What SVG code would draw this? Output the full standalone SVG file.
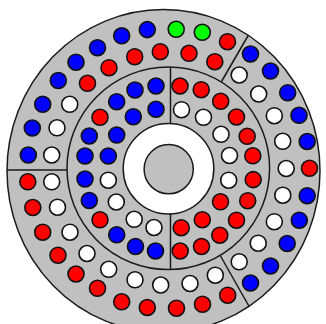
<svg xmlns="http://www.w3.org/2000/svg" width="326" height="324" viewBox="0 0 326 324">
<style>
.ln{stroke:#1a1a1a;stroke-width:1.5;fill:none}
.d circle{stroke:#111;stroke-width:1.6}
.b{fill:#0000ff}.r{fill:#ff0000}.w{fill:#ffffff}.g{fill:#00ff00}
</style>
<defs>
<clipPath id="clip"><ellipse cx="163.5" cy="171" rx="156.5" ry="161.5"/></clipPath>
</defs>
<rect width="326" height="324" fill="#ffffff"/>
<g id="disk">
<ellipse cx="163.5" cy="171" rx="156.5" ry="161.5" fill="#c0c0c0" stroke="#1a1a1a" stroke-width="1.5"/>
<circle cx="168.3" cy="168.3" r="101.3" class="ln"/>
<circle cx="168.5" cy="168.8" r="45.3" fill="#ffffff" stroke="#1a1a1a" stroke-width="1.5"/>
<circle cx="168.7" cy="169.2" r="24.6" fill="#c0c0c0" stroke="#1a1a1a" stroke-width="1.5"/>
</g>
<g id="dividers" clip-path="url(#clip)">
<line class="ln" x1="7" y1="170" x2="67" y2="170"/>
<line class="ln" x1="170.5" y1="67" x2="170.5" y2="123.5"/>
<line class="ln" x1="170.5" y1="213.8" x2="170.5" y2="270"/>
<line class="ln" x1="221.5" y1="81.5" x2="250.5" y2="31.5"/>
<line class="ln" x1="220.5" y1="256" x2="249.7" y2="307.5"/>
</g>
<g id="outer-ring-outer-row" class="d">
<circle class="b" cx="28.3" cy="155" r="8"/>
<circle class="b" cx="32.3" cy="128" r="8"/>
<circle class="b" cx="42.7" cy="104.3" r="8"/>
<circle class="b" cx="58.3" cy="80.5" r="8"/>
<circle class="b" cx="76" cy="62.2" r="8"/>
<circle class="b" cx="97.5" cy="47.7" r="8"/>
<circle class="b" cx="121.7" cy="35.8" r="8"/>
<circle class="b" cx="147.3" cy="29.6" r="8"/>
<circle class="g" cx="176.2" cy="29.3" r="8"/>
<circle class="g" cx="202.3" cy="32.3" r="8"/>
<circle class="r" cx="227.5" cy="41.7" r="8"/>
<circle class="b" cx="250.5" cy="54" r="8"/>
<circle class="b" cx="270.5" cy="71" r="8"/>
<circle class="b" cx="287.7" cy="92.7" r="8"/>
<circle class="b" cx="299" cy="115.3" r="8"/>
<circle class="b" cx="307.2" cy="141.5" r="8"/>
<circle class="r" cx="309.5" cy="168.3" r="8"/>
<circle class="b" cx="307.2" cy="195.7" r="8"/>
<circle class="b" cx="299.3" cy="220.2" r="8"/>
<circle class="b" cx="287.2" cy="243.5" r="8"/>
<circle class="b" cx="270.5" cy="266" r="8"/>
<circle class="b" cx="250.5" cy="283" r="8"/>
<circle class="r" cx="227.7" cy="295.2" r="8"/>
<circle class="r" cx="202.5" cy="304.3" r="8"/>
<circle class="r" cx="176.5" cy="308.2" r="8"/>
<circle class="r" cx="147.3" cy="307.5" r="8"/>
<circle class="r" cx="121.7" cy="301.8" r="8"/>
<circle class="r" cx="97.5" cy="288.3" r="8"/>
<circle class="r" cx="76" cy="274" r="8"/>
<circle class="r" cx="58" cy="255.2" r="8"/>
<circle class="r" cx="42.7" cy="232.2" r="8"/>
<circle class="r" cx="32.8" cy="207.5" r="8"/>
<circle class="r" cx="27.8" cy="181.8" r="8"/>
</g>
<g id="outer-ring-inner-row" class="d">
<circle class="w" cx="51.7" cy="155" r="8"/>
<circle class="w" cx="57" cy="127.8" r="8"/>
<circle class="w" cx="69.7" cy="104.3" r="8"/>
<circle class="r" cx="87.5" cy="83.3" r="8"/>
<circle class="r" cx="109" cy="67.7" r="8"/>
<circle class="r" cx="134.7" cy="56.7" r="8"/>
<circle class="r" cx="160.3" cy="51.7" r="8"/>
<circle class="r" cx="189" cy="53.3" r="8"/>
<circle class="r" cx="214.8" cy="61.7" r="8"/>
<circle class="w" cx="239.2" cy="75" r="8"/>
<circle class="w" cx="258.7" cy="94" r="8"/>
<circle class="w" cx="274.3" cy="115.7" r="8"/>
<circle class="w" cx="282.7" cy="141.3" r="8"/>
<circle class="w" cx="286.2" cy="168.5" r="8"/>
<circle class="w" cx="282.8" cy="195.2" r="8"/>
<circle class="w" cx="274.3" cy="221.7" r="8"/>
<circle class="w" cx="258.2" cy="243.2" r="8"/>
<circle class="w" cx="239.2" cy="261.8" r="8"/>
<circle class="w" cx="215.3" cy="275.2" r="8"/>
<circle class="w" cx="190" cy="283.5" r="8"/>
<circle class="w" cx="160.7" cy="285" r="8"/>
<circle class="w" cx="135" cy="279.8" r="8"/>
<circle class="w" cx="108.7" cy="269.3" r="8"/>
<circle class="w" cx="87" cy="253.5" r="8"/>
<circle class="w" cx="70" cy="232.2" r="8"/>
<circle class="w" cx="57.5" cy="207.2" r="8"/>
<circle class="w" cx="51.7" cy="181.8" r="8"/>
</g>
<g id="inner-ring-outer-row" class="d">
<circle class="r" cx="180" cy="86" r="8"/>
<circle class="r" cx="201.2" cy="89.7" r="8"/>
<circle class="r" cx="220.7" cy="101.3" r="8"/>
<circle class="r" cx="236.5" cy="117" r="8"/>
<circle class="r" cx="247.2" cy="136.3" r="8"/>
<circle class="r" cx="252.8" cy="155.8" r="8"/>
<circle class="r" cx="253.2" cy="179.6" r="8"/>
<circle class="r" cx="247.7" cy="200.7" r="8"/>
<circle class="r" cx="236.5" cy="220.2" r="8"/>
<circle class="r" cx="219.8" cy="235.2" r="8"/>
<circle class="r" cx="201.5" cy="246.5" r="8"/>
<circle class="r" cx="180.2" cy="251" r="8"/>
<circle class="b" cx="156" cy="86" r="8"/>
<circle class="b" cx="135" cy="90" r="8"/>
<circle class="b" cx="116.7" cy="101.7" r="8"/>
<circle class="r" cx="100" cy="117.3" r="8"/>
<circle class="b" cx="89.3" cy="136" r="8"/>
<circle class="b" cx="85" cy="156" r="8"/>
<circle class="b" cx="85" cy="179" r="8"/>
<circle class="b" cx="89.3" cy="200.5" r="8"/>
<circle class="r" cx="100" cy="219.8" r="8"/>
<circle class="b" cx="116.7" cy="234.8" r="8"/>
<circle class="b" cx="135.5" cy="246.5" r="8"/>
<circle class="b" cx="155.5" cy="251" r="8"/>
</g>
<g id="inner-ring-inner-row" class="d">
<circle class="w" cx="181.5" cy="109.7" r="8"/>
<circle class="w" cx="203.5" cy="117.3" r="8"/>
<circle class="w" cx="221" cy="134.3" r="8"/>
<circle class="w" cx="229.5" cy="155.5" r="8"/>
<circle class="w" cx="228.7" cy="180.2" r="8"/>
<circle class="r" cx="220.5" cy="201.8" r="8"/>
<circle class="r" cx="202.3" cy="219.7" r="8"/>
<circle class="r" cx="181.2" cy="227.7" r="8"/>
<circle class="b" cx="156" cy="109.3" r="8"/>
<circle class="b" cx="133.3" cy="116.7" r="8"/>
<circle class="b" cx="116.7" cy="135" r="8"/>
<circle class="b" cx="108.3" cy="156" r="8"/>
<circle class="w" cx="108.3" cy="180.2" r="8"/>
<circle class="w" cx="116.3" cy="202" r="8"/>
<circle class="w" cx="134.2" cy="219.3" r="8"/>
<circle class="w" cx="154" cy="227.5" r="8"/>
</g>
</svg>
